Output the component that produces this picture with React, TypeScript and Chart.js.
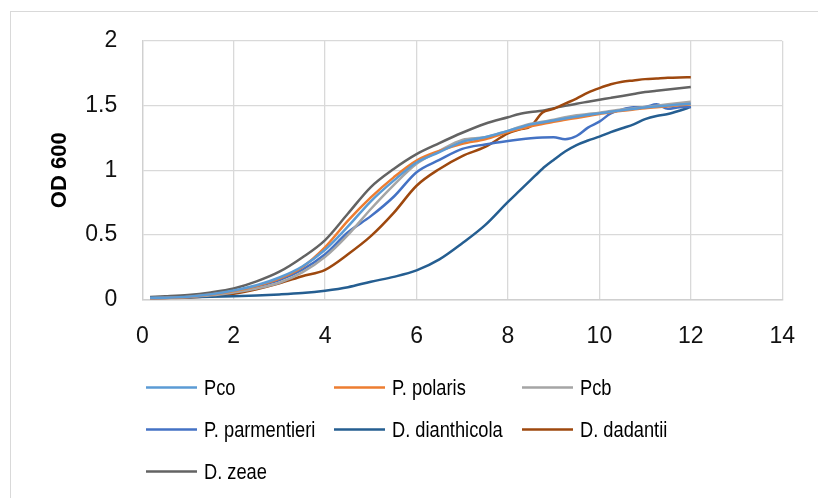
import React, { useEffect, useRef } from "react";
import { Chart, registerables } from "chart.js";

Chart.register(...registerables);

const hours = [0.17, 0.5, 1, 1.5, 2, 2.5, 3, 3.5, 4, 4.5, 5, 5.5, 6, 6.5, 7, 7.5, 8, 8.25, 8.5, 8.75, 9, 9.25, 9.5, 9.75, 10, 10.25, 10.5, 10.75, 11, 11.25, 11.5, 11.75, 12];

const seriesNames = ["Pco", "P. polaris", "Pcb", "P. parmentieri", "D. dianthicola", "D. dadantii", "D. zeae"];

const pco = [0.012, 0.014, 0.022, 0.04, 0.07, 0.11, 0.17, 0.255, 0.385, 0.565, 0.76, 0.92, 1.06, 1.14, 1.22, 1.255, 1.305, 1.33, 1.355, 1.37, 1.385, 1.4, 1.415, 1.43, 1.44, 1.453, 1.465, 1.475, 1.485, 1.493, 1.5, 1.508, 1.515];
const polaris = [0.008, 0.012, 0.02, 0.038, 0.065, 0.105, 0.162, 0.25, 0.405, 0.61, 0.79, 0.945, 1.075, 1.15, 1.205, 1.24, 1.295, 1.318, 1.34, 1.358, 1.375, 1.39, 1.405, 1.42, 1.435, 1.448, 1.46, 1.47, 1.48, 1.488, 1.495, 1.503, 1.51];
const pcb = [0.012, 0.014, 0.02, 0.032, 0.055, 0.085, 0.13, 0.21, 0.33, 0.5, 0.7, 0.885, 1.05, 1.15, 1.235, 1.255, 1.305, 1.335, 1.36, 1.375, 1.39, 1.41, 1.425, 1.435, 1.445, 1.458, 1.47, 1.48, 1.49, 1.5, 1.51, 1.52, 1.53];
const parmentieri = [0.01, 0.012, 0.02, 0.035, 0.06, 0.1, 0.15, 0.23, 0.35, 0.52, 0.645, 0.795, 0.985, 1.08, 1.165, 1.2, 1.227, 1.238, 1.247, 1.253, 1.255, 1.24, 1.265, 1.33, 1.376, 1.44, 1.47, 1.487, 1.49, 1.51, 1.475, 1.487, 1.49];
const dianthicola = [0.015, 0.016, 0.018, 0.021, 0.025, 0.031, 0.039, 0.05, 0.068, 0.095, 0.138, 0.175, 0.225, 0.31, 0.435, 0.575, 0.755, 0.84, 0.925, 1.01, 1.08, 1.145, 1.195, 1.23, 1.26, 1.295, 1.325, 1.355, 1.395, 1.42, 1.435, 1.46, 1.49];
const dadantii = [0.008, 0.01, 0.015, 0.027, 0.045, 0.08, 0.125, 0.18, 0.23, 0.35, 0.49, 0.67, 0.88, 1.01, 1.11, 1.18, 1.285, 1.315, 1.34, 1.445, 1.475, 1.515, 1.555, 1.6, 1.635, 1.665, 1.685, 1.695, 1.705, 1.71, 1.715, 1.718, 1.72];
const zeae = [0.02, 0.025, 0.035, 0.055, 0.085, 0.14, 0.215, 0.325, 0.46, 0.665, 0.87, 1.01, 1.125, 1.21, 1.29, 1.36, 1.41, 1.435, 1.45, 1.46, 1.48, 1.498, 1.515, 1.53, 1.545, 1.56, 1.575, 1.59, 1.605, 1.615, 1.625, 1.635, 1.645];

const seriesValues = [pco, polaris, pcb, parmentieri, dianthicola, dadantii, zeae];
const seriesColors = ["#5B9BD5", "#ED7D31", "#A5A5A5", "#4472C4", "#255E91", "#9E480E", "#636363"];

const xMin = 0;
const xMax = 14;
const xStep = 2;
const yMin = 0;
const yMax = 2;
const yStep = 0.5;

const borderPlugin = {
  id: "outerBorder",
  beforeDraw(chart: any) {
    const ctx = chart.ctx;
    ctx.save();
    ctx.fillStyle = "#ffffff";
    ctx.fillRect(0, 0, chart.width, chart.height);
    ctx.strokeStyle = "#d9d9d9";
    ctx.lineWidth = 1;
    ctx.strokeRect(10.5, 11.5, 900, 600);
    ctx.restore();
  },
};

const legendPlugin = {
  id: "gridLegend",
  afterDraw(chart: any) {
    const ctx = chart.ctx;
    chart.data.datasets.forEach((ds: any, i: number) => {
      const col = i % 3;
      const row = Math.floor(i / 3);
      const x0 = 146 + col * 188;
      const y = 387.5 + row * 42;
      ctx.save();
      ctx.strokeStyle = ds.borderColor;
      ctx.lineWidth = 2.5;
      ctx.beginPath();
      ctx.moveTo(x0, y);
      ctx.lineTo(x0 + 51, y);
      ctx.stroke();
      ctx.translate(x0 + 58, y + 1);
      ctx.scale(0.83, 1);
      ctx.font = '22px "Liberation Sans", Arial, sans-serif';
      ctx.textBaseline = "middle";
      ctx.textAlign = "left";
      ctx.fillStyle = "#000000";
      ctx.fillText(ds.label, 0, 0);
      ctx.restore();
    });
  },
};

export default function App() {
  const canvasRef = useRef<HTMLCanvasElement | null>(null);

  useEffect(() => {
    if (!canvasRef.current) return;
    const datasets = seriesNames.map((name, i) => ({
      label: name,
      data: hours.map((h, j) => ({ x: h, y: seriesValues[i][j] })),
      borderColor: seriesColors[i],
      backgroundColor: seriesColors[i],
      borderWidth: 2.5,
      pointRadius: 0,
      fill: false,
      cubicInterpolationMode: "monotone" as const,
    }));
    const chart = new Chart(canvasRef.current, {
      type: "line",
      data: { datasets },
      options: {
        animation: false,
        responsive: true,
        maintainAspectRatio: false,
        layout: { padding: { top: 41, right: 30, bottom: 0, left: 0 } },
        plugins: {
          legend: { display: false },
          tooltip: { enabled: false },
        },
        scales: {
          x: {
            type: "linear",
            min: xMin,
            max: xMax,
            ticks: {
              stepSize: xStep,
              padding: 23,
              color: "#111111",
              font: { family: '"Liberation Sans", Arial, sans-serif', size: 23 },
              callback: (v: any) => String(v),
            },
            grid: { color: "#d9d9d9", lineWidth: 1.3, drawTicks: false },
            border: { color: "#cfcfcf", width: 1.5 },
            afterFit(scale: any) {
              scale.height = 198.5;
            },
          },
          y: {
            type: "linear",
            min: yMin,
            max: yMax,
            ticks: {
              stepSize: yStep,
              padding: 25,
              color: "#111111",
              font: { family: '"Liberation Sans", Arial, sans-serif', size: 23 },
              callback: (v: any) => String(v),
            },
            grid: { color: "#d9d9d9", lineWidth: 1.3, drawTicks: false },
            border: { color: "#d0d0d0", width: 1.3 },
            title: {
              display: true,
              text: "OD 600",
              color: "#000000",
              font: { family: '"Liberation Sans", Arial, sans-serif', size: 22, weight: "bold" },
              padding: { top: 47, bottom: 0 },
            },
            afterFit(scale: any) {
              scale.width = 142.3;
            },
          },
        },
      },
      plugins: [borderPlugin, legendPlugin],
    });
    return () => chart.destroy();
  }, []);

  return (
    <div style={{ position: "fixed", left: 0, top: 0, width: 818, height: 498, background: "#fff" }}>
      <canvas ref={canvasRef} />
    </div>
  );
}
